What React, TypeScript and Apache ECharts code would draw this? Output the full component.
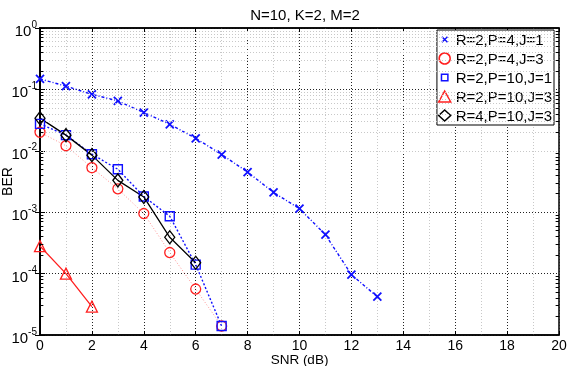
import React, { useEffect, useRef } from "react";
import * as echarts from "echarts";

const titleText = "N=10, K=2, M=2";
const xName = "SNR (dB)";
const yName = "BER";
const seriesNames = ["R=2,P=4,J=1", "R=2,P=4,J=3", "R=2,P=10,J=1", "R=2,P=10,J=3", "R=4,P=10,J=3"];

const snrA = [0, 1, 2, 3, 4, 5, 6, 7, 8, 9, 10, 11, 12, 13];
const berA = [0.148, 0.113, 0.083, 0.065, 0.042, 0.027, 0.016, 0.0087, 0.0045, 0.0021, 0.00114, 0.00043, 9.6e-5, 4.2e-5];
const snrB = [0, 1, 2, 3, 4, 5, 6, 7];
const berB = [0.02, 0.0121, 0.0053, 0.0024, 0.00095, 0.00022, 5.6e-5, 1.4e-5];
const snrC = [0, 1, 2, 3, 4, 5, 6, 7];
const berC = [0.0275, 0.018, 0.0088, 0.005, 0.0018, 0.00086, 0.00014, 1.4e-5];
const snrD = [0, 1, 2];
const berD = [0.00028, 0.0001, 2.9e-5];
const snrE = [0, 1, 2, 3, 4, 5, 6];
const berE = [0.034, 0.018, 0.0085, 0.0033, 0.00177, 0.00039, 0.00015];

const minorDecades = [-5, -4, -3, -2, -1];
const minorMultipliers = [2, 3, 4, 5, 6, 7, 8, 9];

const FONT = "Liberation Sans, Arial, sans-serif";
const X_PATH = "path://M0,0L10,10M10,0L0,10";
const X_LEGEND = "path://M0,0M12,12M3,3L9,9M9,3L3,9";
const SQ_LEGEND = "path://M0,0M12,12M2.5,2.5L9.5,2.5L9.5,9.5L2.5,9.5Z";

const pairs = (xs: number[], ys: number[]) => xs.map((x, i) => [x, ys[i]]);

export default function App() {
  const ref = useRef<HTMLDivElement>(null);
  useEffect(() => {
    if (!ref.current) return;
    const chart = echarts.init(ref.current, undefined, { renderer: "svg" });
    const minorVals: number[] = [];
    minorDecades.forEach((d) => minorMultipliers.forEach((m) => minorVals.push(m * Math.pow(10, d))));
    const minorLines = minorVals.map((v) => ({ yAxis: v }));
    const minorTicks: any[] = [];
    minorVals.forEach((v) => {
      minorTicks.push([{ coord: [0, v] }, { coord: [0.13, v] }]);
      minorTicks.push([{ coord: [19.87, v] }, { coord: [20, v] }]);
    });
    const defs = [
      { name: seriesNames[0], data: pairs(snrA, berA), symbol: X_PATH, legendIcon: X_LEGEND, size: 8, bw: 1.8, color: "#1010ff", line: { type: [3, 2, 1, 2], width: 1.4, opacity: 1 } },
      { name: seriesNames[1], data: pairs(snrB, berB), symbol: "circle", legendIcon: "circle", size: 10, bw: 1.3, color: "#ff2020", line: { type: [1, 2], width: 0.8, opacity: 0.6 } },
      { name: seriesNames[2], data: pairs(snrC, berC), symbol: "rect", legendIcon: SQ_LEGEND, size: 9, bw: 1.4, color: "#1010ff", line: { type: [2, 2], width: 1.4, opacity: 1 } },
      { name: seriesNames[3], data: pairs(snrD, berD), symbol: "triangle", legendIcon: "triangle", size: 11, bw: 1.3, color: "#ff2020", line: { type: "solid", width: 1.3, opacity: 1 } },
      { name: seriesNames[4], data: pairs(snrE, berE), symbol: "diamond", legendIcon: "diamond", size: [10, 13], bw: 1.3, color: "#000000", line: { type: "solid", width: 1.3, opacity: 1 } },
    ];
    const series: any[] = [
      {
        type: "line",
        data: [],
        silent: true,
        z: 1,
        markLine: {
          silent: true,
          symbol: ["none", "none"],
          label: { show: false },
          lineStyle: { color: "#c8c8c8", type: [1, 2], width: 1 },
          data: minorLines,
        },
      },
      {
        type: "line",
        data: [],
        silent: true,
        z: 4,
        markLine: {
          silent: true,
          symbol: ["none", "none"],
          label: { show: false },
          lineStyle: { color: "#000", type: "solid", width: 1 },
          data: minorTicks,
        },
      },
    ];
    defs.forEach((d) =>
      series.push({
        type: "line",
        name: d.name,
        data: d.data,
        symbol: d.symbol,
        symbolSize: d.size,
        z: 3,
        lineStyle: { color: d.color, type: d.line.type, width: d.line.width, opacity: d.line.opacity },
        itemStyle: { color: "rgba(0,0,0,0)", borderColor: d.color, borderWidth: d.bw },
      })
    );
    chart.setOption({
      animation: false,
      textStyle: { fontFamily: FONT },
      title: {
        text: titleText,
        left: 300,
        textAlign: "center",
        top: 2,
        textStyle: { fontSize: 15, fontWeight: "normal", color: "#000", fontFamily: FONT },
      },
      legend: {
        orient: "vertical",
        right: 14,
        top: 30,
        itemGap: 4,
        itemWidth: 12,
        itemHeight: 11,
        itemSymbolKeepAspect: true,
        padding: [2, 2, 2, 1],
        backgroundColor: "#fff",
        borderColor: "#000",
        borderWidth: 1,
        textStyle: { fontSize: 15, lineHeight: 15, color: "#000", fontFamily: FONT },
        data: defs.map((d) => ({
          name: d.name,
          icon: d.legendIcon,
          itemStyle: { color: "rgba(0,0,0,0)", borderColor: d.color, borderWidth: 1.5 },
        })),
      },
      grid: {
        left: 40,
        right: 9,
        top: 28,
        bottom: 31,
        outerBoundsMode: "none",
        containLabel: false,
        show: true,
        borderColor: "#000",
        borderWidth: 1.5,
        backgroundColor: "#fff",
      },
      xAxis: [
        {
          type: "value",
          min: 0,
          max: 20,
          interval: 2,
          name: xName,
          nameLocation: "middle",
          nameGap: 17,
          nameMoveOverlap: false,
          nameTextStyle: { fontSize: 13.5, color: "#000", fontFamily: FONT },
          axisLine: { show: true, lineStyle: { color: "#000", width: 1.5 } },
          axisTick: { inside: true, length: 4, lineStyle: { color: "#000" } },
          axisLabel: { fontSize: 14, color: "#000", margin: 3, fontFamily: FONT },
          splitLine: { show: true, lineStyle: { color: "#222", type: [1, 2], width: 1 } },
          minorTick: { show: false, splitNumber: 2 },
          minorSplitLine: { show: true, lineStyle: { color: "#c8c8c8", type: [1, 2], width: 1 } },
        },
        {
          type: "value",
          position: "top",
          min: 0,
          max: 20,
          interval: 2,
          axisLine: { show: true, lineStyle: { color: "#000", width: 1.5 } },
          axisTick: { inside: true, length: 4, lineStyle: { color: "#000" } },
          axisLabel: { show: false },
          splitLine: { show: false },
        },
      ],
      yAxis: [
        {
          type: "log",
          logBase: 10,
          min: 1e-5,
          max: 1,
          name: yName,
          nameLocation: "middle",
          nameGap: 26,
          nameMoveOverlap: false,
          nameTextStyle: { fontSize: 14, color: "#000", fontFamily: FONT },
          axisLine: { show: true, lineStyle: { color: "#000", width: 1.5 } },
          axisTick: { inside: true, length: 5, lineStyle: { color: "#000" } },
          splitLine: { show: true, lineStyle: { color: "#222", type: [1, 2], width: 1 } },
          axisLabel: {
            margin: 3,
            formatter: (v: number) => `{b|10}{s|${Math.round(Math.log10(v))}}`,
            rich: {
              b: { fontSize: 15, color: "#000", fontFamily: FONT, padding: [5, 0, 0, 0] },
              s: { fontSize: 10, color: "#000", fontFamily: FONT, padding: [0, 0, 8, 0] },
            },
          },
        },
        {
          type: "log",
          logBase: 10,
          min: 1e-5,
          max: 1,
          position: "right",
          axisLine: { show: true, lineStyle: { color: "#000", width: 1.5 } },
          axisTick: { inside: true, length: 5, lineStyle: { color: "#000" } },
          axisLabel: { show: false },
          splitLine: { show: false },
        },
      ],
      series,
    });
    return () => chart.dispose();
  }, []);
  return <div ref={ref} style={{ position: "fixed", left: 0, top: 0, width: 568, height: 366 }} />;
}
